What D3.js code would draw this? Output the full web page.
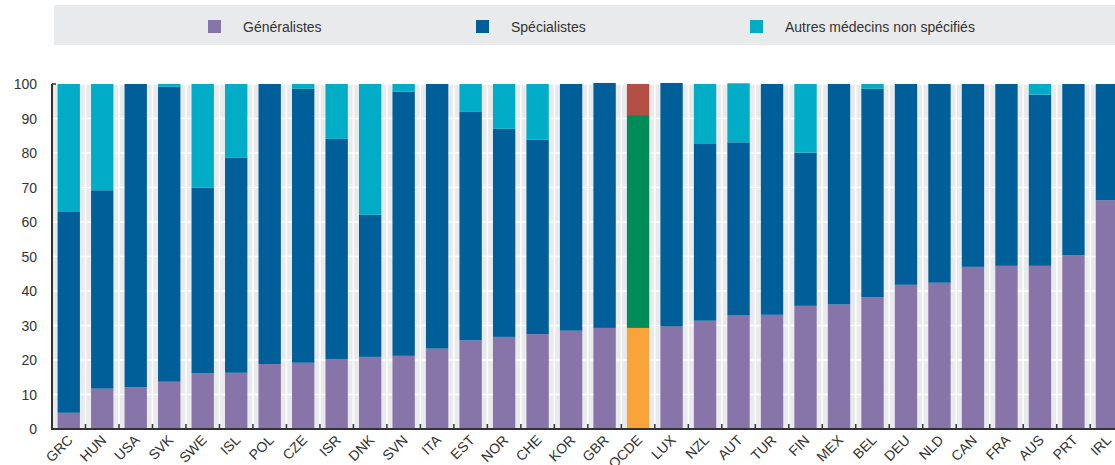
<!DOCTYPE html>
<html>
<head>
<meta charset="utf-8">
<script src="https://cdn.jsdelivr.net/npm/d3@7"></script>
<style>
  body { margin: 0; background: #fff; }
  svg { font-family: "Liberation Sans", Arial, sans-serif; display: block; }
  .tick-label { font-size: 14px; fill: #333; }
  .legend-text { font-size: 14px; fill: #333; }
</style>
</head>
<body>
<svg id="chart"></svg>
<script>
const countries = ['GRC','HUN','USA','SVK','SWE','ISL','POL','CZE','ISR','DNK','SVN','ITA','EST','NOR','CHE','KOR','GBR','OCDE','LUX','NZL','AUT','TUR','FIN','MEX','BEL','DEU','NLD','CAN','FRA','AUS','PRT','IRL'];
const generalistes = [4.7,11.7,12.1,13.7,16.2,16.3,18.8,19.2,20.3,20.9,21.2,23.3,25.7,26.7,27.5,28.5,29.3,29.3,29.7,31.4,32.9,33.1,35.7,36.1,38.2,41.8,42.4,47.0,47.3,47.3,50.4,66.3];
const specialistes = [58.2,57.5,87.9,85.5,53.8,62.4,81.2,79.4,63.8,41.2,76.6,76.7,66.2,60.3,56.4,71.5,71.0,61.7,70.6,51.4,50.2,66.9,44.4,63.9,60.4,58.2,57.6,53.0,52.7,49.6,49.6,33.7];
const autres = [37.1,30.8,0,0.8,30.0,21.3,0,1.4,15.9,37.9,2.2,0,8.1,13.0,16.1,0,0,9.0,0,17.2,17.1,0,19.9,0,1.4,0,0,0,0,3.1,0,0];
const seriesNames = ['Généralistes', 'Spécialistes', 'Autres médecins non spécifiés'];
const yTicks = [0,10,20,30,40,50,60,70,80,90,100];

const colors = ['#8774a8', '#005e99', '#00acc6'];
const ocdeColors = ['#f7a43b', '#008c59', '#b34f44'];

const width = 1115, height = 465;
const margin = { top: 84, left: 52, bottom: 36 };

const svg = d3.select('#chart').attr('width', width).attr('height', height);

const data = countries.map((c, i) => ({
  country: c,
  g: generalistes[i],
  s: specialistes[i],
  a: autres[i]
}));

// legend band
const legend = svg.append('g');
legend.append('rect')
  .attr('x', 54).attr('y', 5)
  .attr('width', width - 54).attr('height', 40)
  .attr('fill', '#e9eaec');
const legendX = [208, 476, 750];
seriesNames.forEach((name, i) => {
  legend.append('rect')
    .attr('x', legendX[i]).attr('y', 20)
    .attr('width', 13).attr('height', 13)
    .attr('fill', colors[i]);
  legend.append('text')
    .attr('class', 'legend-text')
    .attr('x', legendX[i] + 35).attr('y', 27)
    .attr('dominant-baseline', 'central')
    .text(name);
});

// scales
const step = 33.49;
const x = d3.scaleBand()
  .domain(countries)
  .range([margin.left, margin.left + step * countries.length])
  .paddingInner(0.333)
  .paddingOuter(0.1665);

const y = d3.scaleLinear()
  .domain([0, 100])
  .range([height - margin.bottom, margin.top]);

// plot background
svg.append('rect')
  .attr('x', margin.left).attr('y', y(100))
  .attr('width', width - margin.left).attr('height', y(0) - y(100))
  .attr('fill', '#e9eaec');

// horizontal grid
svg.append('g')
  .selectAll('line')
  .data(yTicks.filter(d => d > 0))
  .enter().append('line')
  .attr('x1', margin.left).attr('x2', width)
  .attr('y1', d => y(d)).attr('y2', d => y(d))
  .attr('stroke', '#fff').attr('stroke-width', 1.5);

// vertical grid at category boundaries
const bounds = d3.range(1, countries.length + 1).map(i => margin.left + x.step() * i);
svg.append('g')
  .selectAll('line')
  .data(bounds)
  .enter().append('line')
  .attr('x1', d => d).attr('x2', d => d)
  .attr('y1', y(100)).attr('y2', y(0))
  .attr('stroke', '#fff').attr('stroke-width', 1.5);

// stacked bars
const stack = d3.stack().keys(['g', 's', 'a']);
const layers = stack(data);

svg.append('g')
  .selectAll('g')
  .data(layers)
  .enter().append('g')
  .each(function(layer, li) {
    d3.select(this).selectAll('rect')
      .data(layer)
      .enter().append('rect')
      .attr('x', d => x(d.data.country))
      .attr('width', x.bandwidth())
      .attr('y', d => y(d[1]))
      .attr('height', d => y(d[0]) - y(d[1]))
      .attr('fill', d => d.data.country === 'OCDE' ? ocdeColors[li] : colors[li]);
  });

// axes
const axisColor = '#333';
const yAxis = svg.append('g');
yAxis.append('line')
  .attr('x1', margin.left).attr('x2', margin.left)
  .attr('y1', y(100)).attr('y2', y(0))
  .attr('stroke', axisColor).attr('stroke-width', 2);
yAxis.append('line')
  .attr('x1', margin.left).attr('x2', margin.left + 4)
  .attr('y1', y(100)).attr('y2', y(100))
  .attr('stroke', axisColor).attr('stroke-width', 1.5);
yAxis.selectAll('text')
  .data(yTicks)
  .enter().append('text')
  .attr('class', 'tick-label')
  .attr('x', 37)
  .attr('y', d => y(d))
  .attr('text-anchor', 'end')
  .attr('dominant-baseline', 'central')
  .text(d => d);

const xAxis = svg.append('g');
xAxis.append('line')
  .attr('x1', margin.left - 1).attr('x2', width)
  .attr('y1', y(0)).attr('y2', y(0))
  .attr('stroke', axisColor).attr('stroke-width', 2);
xAxis.selectAll('line.tk')
  .data(bounds)
  .enter().append('line')
  .attr('class', 'tk')
  .attr('x1', d => d).attr('x2', d => d)
  .attr('y1', y(0)).attr('y2', y(0) - 5)
  .attr('stroke', axisColor).attr('stroke-width', 1.5);
xAxis.selectAll('text')
  .data(countries)
  .enter().append('text')
  .attr('class', 'tick-label')
  .attr('text-anchor', 'end')
  .attr('transform', d => `translate(${x(d) + x.bandwidth() / 2 + 5}, ${y(0) + 12}) rotate(-45)`)
  .text(d => d);
</script>
</body>
</html>
